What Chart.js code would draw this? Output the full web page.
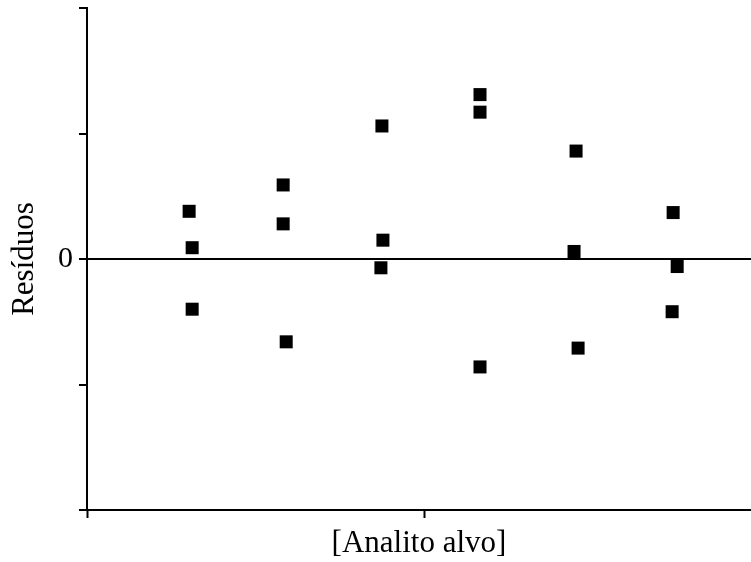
<!DOCTYPE html>
<html>
<head>
<meta charset="utf-8">
<script src="https://cdn.jsdelivr.net/npm/chart.js@4"></script>
<style>
  html, body { margin: 0; padding: 0; background: #fff; }
  #wrap { width: 751px; height: 562px; }
</style>
</head>
<body>
<div id="wrap"><canvas id="myChart" width="751" height="562"></canvas></div>
<script>
// residuos, 3 replicas por nivel
var nivelX = [0.303, 0.312, 0.312, 0.582, 0.582, 0.591, 0.875, 0.878, 0.872,
              1.166, 1.166, 1.166, 1.451, 1.445, 1.457, 1.739, 1.751, 1.736];
var residuos = [0.38, 0.09, -0.40, 0.59, 0.28, -0.66, 1.06, 0.15, -0.07,
                1.31, 1.17, -0.86, 0.86, 0.06, -0.71, 0.37, -0.06, -0.42];
var yTicks = [-2, -1, 0, 1, 2];
var xTicks = [0, 1];

var pontos = nivelX.map(function (x, i) {
  return { x: x, y: residuos[i] };
});

var serif = "'Liberation Serif', 'DejaVu Serif', serif";

// tira o espaco extra que o Chart.js reserva para os rotulos
function semPadding(scale) {
  scale.paddingTop = 0;
  scale.paddingBottom = 0;
  scale.paddingLeft = 0;
  scale.paddingRight = 0;
}

var ctx = document.getElementById("myChart").getContext("2d");
var myChart = new Chart(ctx, {
  type: "scatter",
  data: {
    datasets: [
      {
        data: pontos,
        pointStyle: "rect",
        pointRadius: 9.2,
        pointHoverRadius: 9.2,
        backgroundColor: "#000",
        borderWidth: 0,
        clip: false,
      },
    ],
  },
  options: {
    responsive: false,
    animation: false,
    layout: { autoPadding: false, padding: { top: 8, left: 0, right: 0, bottom: 0 } },
    plugins: {
      legend: { display: false },
      tooltip: { enabled: false },
    },
    scales: {
      x: {
        type: "linear",
        min: 0,
        max: 1.97,
        afterBuildTicks: function (scale) {
          scale.ticks = xTicks.map(function (v) { return { value: v }; });
        },
        afterFit: function (scale) {
          scale.height = 52;
          semPadding(scale);
        },
        ticks: {
          callback: function () { return ""; },
        },
        grid: {
          drawOnChartArea: false,
          tickLength: 8,
          tickColor: "#000",
          tickWidth: 2,
        },
        border: { display: true, color: "#000", width: 2 },
        title: {
          display: true,
          text: "[Analito alvo]",
          color: "#000",
          font: { family: serif, size: 31, lineHeight: 1.2 },
          padding: 0,
        },
      },
      y: {
        min: -2,
        max: 2,
        afterBuildTicks: function (scale) {
          scale.ticks = yTicks.map(function (v) { return { value: v }; });
        },
        afterFit: function (scale) {
          scale.width = 87;
          semPadding(scale);
        },
        ticks: {
          color: "#000",
          padding: 6,
          font: { family: serif, size: 30 },
          callback: function (v) { return v === 0 ? "0" : ""; },
        },
        grid: {
          drawOnChartArea: true,
          color: function (c) {
            return c.tick && c.tick.value === 0 ? "#000" : "rgba(0,0,0,0)";
          },
          lineWidth: 2,
          tickLength: 8,
          tickColor: "#000",
          tickWidth: 2,
        },
        border: { display: true, color: "#000", width: 2 },
        title: {
          display: true,
          text: "Resíduos",
          color: "#000",
          font: { family: serif, size: 31, lineHeight: 1.2 },
          padding: 6,
        },
      },
    },
  },
});
</script>
</body>
</html>
